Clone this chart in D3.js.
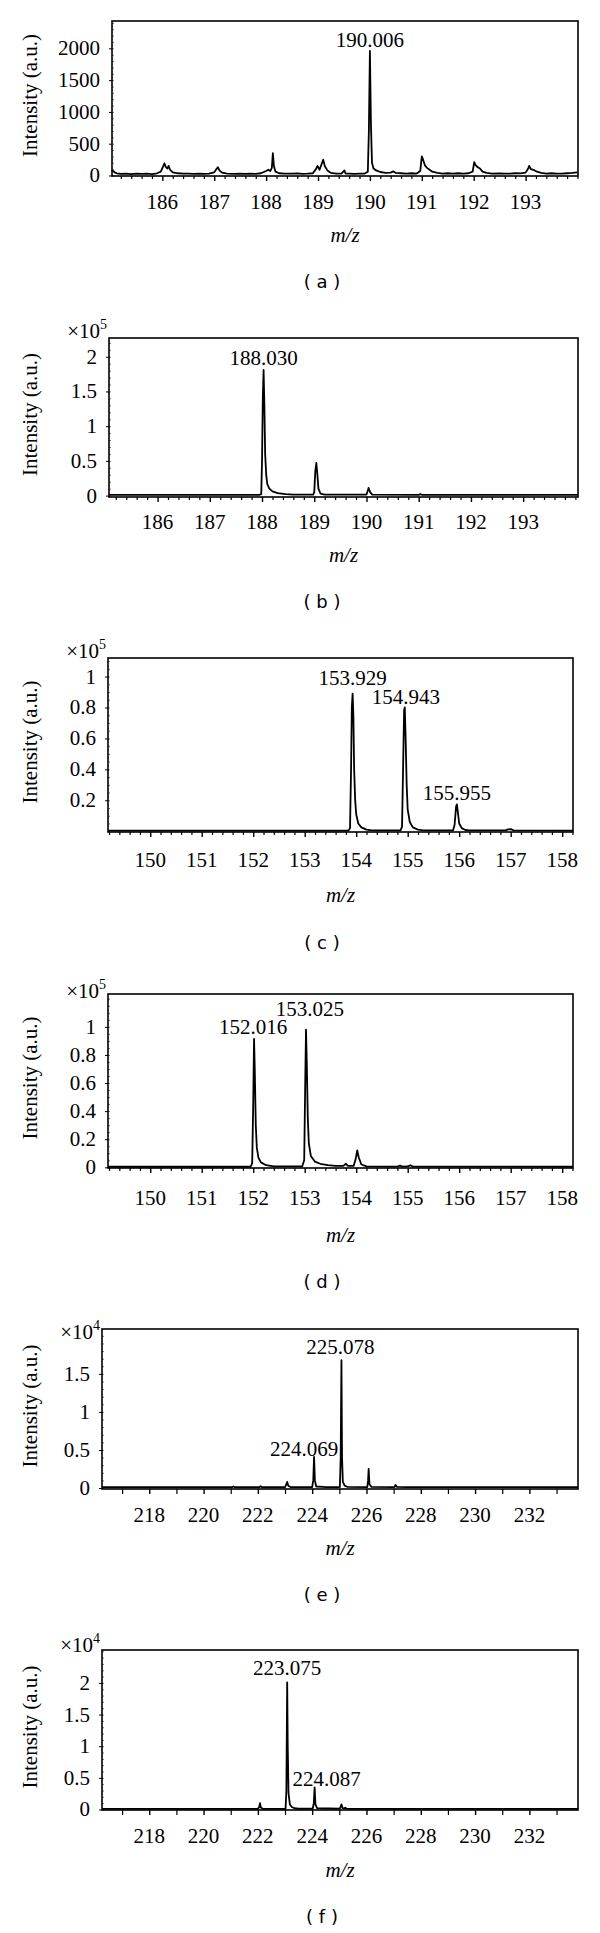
<!DOCTYPE html>
<html>
<head>
<meta charset="utf-8">
<script src="https://cdn.jsdelivr.net/npm/d3@7"></script>
<style>
  html, body { margin: 0; padding: 0; background: #fff; }
  svg { display: block; }
</style>
</head>
<body>
<svg id="chart" width="600" height="1933"></svg>
<script>
// ---------------- DATA ----------------
// Spectrum (a): [m/z, intensity a.u.]
const spectrumA = [
  [185.03,90],[185.05,70],[185.08,50],[185.12,35],[185.2,25],[185.3,30],[185.4,20],[185.5,30],[185.6,25],[185.7,28],[185.8,22],[185.9,35],
  [185.97,60],[186.02,150],[186.04,190],[186.07,130],[186.1,110],[186.12,150],[186.15,90],[186.2,50],[186.3,35],[186.4,30],[186.5,30],
  [186.6,25],[186.7,30],[186.8,25],[186.9,30],[187.0,50],[187.05,110],[187.07,130],[187.1,80],[187.15,45],[187.25,30],[187.4,25],
  [187.5,30],[187.6,25],[187.7,28],[187.8,25],[187.9,35],[188.0,70],[188.04,90],[188.08,70],[188.11,120],[188.13,350],[188.15,150],
  [188.18,60],[188.25,35],[188.35,30],[188.5,28],[188.6,32],[188.7,25],[188.8,28],[188.9,35],[188.96,100],[188.99,150],[189.03,90],
  [189.07,180],[189.1,250],[189.13,150],[189.18,80],[189.25,40],[189.35,30],[189.45,30],[189.51,80],[189.53,30],[189.6,28],[189.7,25],
  [189.8,28],[189.9,30],[189.96,60],[189.98,700],[190.0,1960],[190.02,800],[190.04,200],[190.07,110],[190.12,80],[190.2,55],[190.3,40],
  [190.4,45],[190.45,65],[190.5,40],[190.6,35],[190.7,30],[190.8,35],[190.9,30],[190.97,70],[191.0,300],[191.02,260],[191.06,160],
  [191.1,120],[191.15,90],[191.2,60],[191.3,40],[191.4,30],[191.5,35],[191.6,30],[191.7,35],[191.8,28],[191.9,35],[191.98,60],
  [192.01,210],[192.04,160],[192.08,130],[192.12,110],[192.17,60],[192.25,40],[192.35,30],[192.5,32],[192.6,28],[192.7,30],[192.8,35],
  [192.9,32],[193.0,45],[193.05,110],[193.07,150],[193.1,100],[193.15,90],[193.22,60],[193.3,40],[193.4,30],[193.5,35],[193.6,30],
  [193.7,28],[193.8,35],[193.9,40],[194.0,50]
];
// Spectrum (b): [m/z, intensity x1e5]
const spectrumB = [
  [185.07,0.012],[187.95,0.012],[187.985,0.02],[188.0,0.5],[188.015,1.4],[188.03,1.81],[188.045,1.3],[188.06,0.6],[188.08,0.3],
  [188.1,0.17],[188.14,0.1],[188.2,0.06],[188.3,0.035],[188.45,0.02],[188.6,0.014],[188.98,0.014],[189.0,0.05],[189.02,0.35],
  [189.04,0.47],[189.06,0.3],[189.08,0.1],[189.12,0.03],[189.2,0.015],[190.0,0.015],[190.02,0.06],[190.04,0.11],[190.07,0.05],
  [190.11,0.015],[191.0,0.012],[191.03,0.02],[191.06,0.012],[194.05,0.012]
];
// Spectrum (c): [m/z, intensity x1e5]
const spectrumC = [
  [149.18,0.004],[153.85,0.004],[153.88,0.02],[153.9,0.4],[153.915,0.8],[153.93,0.89],[153.945,0.75],[153.96,0.4],[153.98,0.2],
  [154.0,0.11],[154.04,0.05],[154.1,0.025],[154.2,0.01],[154.3,0.005],[154.86,0.005],[154.89,0.03],[154.91,0.4],[154.93,0.78],
  [154.943,0.80],[154.96,0.6],[154.98,0.3],[155.0,0.14],[155.04,0.06],[155.1,0.025],[155.2,0.01],[155.3,0.005],[155.88,0.005],
  [155.91,0.04],[155.94,0.16],[155.955,0.174],[155.975,0.12],[156.0,0.05],[156.05,0.02],[156.12,0.008],[156.2,0.005],[156.9,0.005],
  [156.95,0.012],[157.0,0.013],[157.06,0.006],[158.21,0.004]
];
// Spectrum (d): [m/z, intensity x1e5]
const spectrumD = [
  [149.18,0.004],[151.95,0.004],[151.98,0.03],[152.0,0.45],[152.016,0.915],[152.03,0.7],[152.05,0.3],[152.07,0.14],[152.1,0.07],
  [152.15,0.035],[152.25,0.015],[152.4,0.007],[152.95,0.006],[152.99,0.05],[153.01,0.6],[153.025,0.98],[153.04,0.75],[153.06,0.35],
  [153.08,0.17],[153.12,0.08],[153.2,0.04],[153.3,0.025],[153.45,0.015],[153.6,0.01],[153.75,0.01],[153.8,0.025],[153.84,0.01],
  [153.95,0.01],[153.99,0.06],[154.02,0.12],[154.05,0.07],[154.1,0.02],[154.2,0.007],[154.8,0.005],[154.85,0.012],[154.9,0.005],
  [155.0,0.006],[155.05,0.015],[155.1,0.005],[158.21,0.004]
];
// Spectrum (e): [m/z, intensity x1e4]
const spectrumE = [
  [216.26,0.01],[221.05,0.01],[221.1,0.02],[221.15,0.01],[222.05,0.01],[222.1,0.025],[222.15,0.01],[223.0,0.01],[223.05,0.05],
  [223.08,0.08],[223.12,0.03],[223.2,0.012],[224.0,0.012],[224.04,0.1],[224.07,0.41],[224.1,0.1],[224.15,0.02],[224.4,0.015],
  [224.5,0.012],[225.02,0.012],[225.05,0.4],[225.078,1.68],[225.1,0.4],[225.13,0.08],[225.2,0.03],[225.3,0.015],[226.03,0.012],
  [226.06,0.1],[226.08,0.25],[226.11,0.05],[226.18,0.015],[227.03,0.012],[227.07,0.04],[227.12,0.015],[227.5,0.012],[233.79,0.01]
];
// Spectrum (f): [m/z, intensity x1e4]
const spectrumF = [
  [216.26,0.01],[222.0,0.01],[222.05,0.04],[222.08,0.1],[222.11,0.03],[222.18,0.01],[223.02,0.01],[223.05,0.3],[223.08,2.01],
  [223.1,1.0],[223.13,0.25],[223.18,0.08],[223.25,0.04],[223.35,0.02],[223.5,0.012],[224.02,0.012],[224.06,0.1],[224.09,0.35],
  [224.12,0.08],[224.18,0.02],[225.02,0.012],[225.05,0.05],[225.08,0.08],[225.12,0.02],[225.18,0.015],[225.22,0.03],[225.26,0.012],
  [233.79,0.01]
];

// Peak annotations: [label text, m/z of apex]
const peaksA = [["190.006",190.0]];
const peaksB = [["188.030",188.03]];
const peaksC = [["153.929",153.93],["154.943",154.943],["155.955",155.955]];
const peaksD = [["152.016",152.016],["153.025",153.025]];
const peaksE = [["225.078",225.078],["224.069",224.069]];
const peaksF = [["223.075",223.08],["224.087",224.09]];

// Axis ticks
const xTicksA = [186,187,188,189,190,191,192,193];
const xTicksB = [186,187,188,189,190,191,192,193];
const xTicksCD = [150,151,152,153,154,155,156,157,158];
const xTicksEF = [218,220,222,224,226,228,230,232];
const yTicksA = [0,500,1000,1500,2000];
const yTicksB = [0,0.5,1,1.5,2];
const yTicksC = [0.2,0.4,0.6,0.8,1];
const yTicksD = [0,0.2,0.4,0.6,0.8,1];
const yTicksE = [0,0.5,1,1.5];
const yTicksF = [0,0.5,1,1.5,2];
const exponents = { a: null, b: "5", c: "5", d: "5", e: "4", f: "4" };
const captions = ["( a )","( b )","( c )","( d )","( e )","( f )"];

// ---------------- LAYOUT ----------------
const panels = [
  { id:"a", data:spectrumA, peaks:peaksA, xt:xTicksA, yt:yTicksA, xDom:[185.03,194.01], yDom:[-8,2430],
    box:[112,578,21,176], minor:0.2, yMinor:100, peakBase:[47], peakDx:[0], tickLabY:209, xlabY:242, capY:288, expY:null },
  { id:"b", data:spectrumB, peaks:peaksB, xt:xTicksB, yt:yTicksB, xDom:[185.07,194.05], yDom:[-0.02,2.27],
    box:[109,578,338,497], minor:0.2, yMinor:0.1, peakBase:[365], peakDx:[0], tickLabY:529, xlabY:562, capY:608, expY:338 },
  { id:"c", data:spectrumC, peaks:peaksC, xt:xTicksCD, yt:yTicksC, xDom:[149.18,158.21], yDom:[-0.005,1.12],
    box:[108,573,658,832], minor:0.2, yMinor:0.05, peakBase:[685,704,800], peakDx:[0,1,0], tickLabY:867, xlabY:902, capY:949, expY:658 },
  { id:"d", data:spectrumD, peaks:peaksD, xt:xTicksCD, yt:yTicksD, xDom:[149.18,158.21], yDom:[-0.005,1.234],
    box:[108,573,994,1168], minor:0.2, yMinor:0.05, peakBase:[1034,1016], peakDx:[-1,4], tickLabY:1205, xlabY:1242, capY:1288, expY:998 },
  { id:"e", data:spectrumE, peaks:peaksE, xt:xTicksEF, yt:yTicksE, xDom:[216.26,233.79], yDom:[-0.013,2.09],
    box:[102,578,1329,1489], minor:1, yMinor:0.1, peakBase:[1354,1456], peakDx:[-1,-10], tickLabY:1522, xlabY:1555, capY:1601, expY:1339 },
  { id:"f", data:spectrumF, peaks:peaksF, xt:xTicksEF, yt:yTicksF, xDom:[216.26,233.79], yDom:[-0.008,2.52],
    box:[102,578,1650,1810], minor:1, yMinor:0.1, peakBase:[1675,1786], peakDx:[0,12], tickLabY:1843, xlabY:1877, capY:1923, expY:1652 }
];

const SERIF = "'Liberation Serif','Times New Roman',Times,serif";
const SANS = "'DejaVu Sans',Verdana,sans-serif";
const svg = d3.select("#chart");

panels.forEach((p, i) => {
  const [x0, x1, y0, y1] = p.box;
  const x = d3.scaleLinear().domain(p.xDom).range([x0, x1]);
  const y = d3.scaleLinear().domain(p.yDom).range([y1, y0]);
  const g = svg.append("g");

  // minor x ticks
  const minorVals = d3.range(Math.ceil(p.xDom[0] / p.minor) * p.minor, p.xDom[1] + 1e-9, p.minor)
    .filter(v => !p.xt.some(t => Math.abs(t - v) < 1e-6));
  g.append("g").attr("transform", `translate(0,${y1})`)
    .call(d3.axisBottom(x).tickValues(minorVals).tickSize(p.minor === 1 ? 5 : 3).tickFormat(""))
    .call(s => s.select(".domain").remove())
    .call(s => s.selectAll("line").attr("stroke", "#000").attr("stroke-width", 1.2));

  // major x ticks
  g.append("g").attr("transform", `translate(0,${y1})`)
    .call(d3.axisBottom(x).tickValues(p.xt).tickSize(5).tickFormat(""))
    .call(s => s.select(".domain").remove())
    .call(s => s.selectAll("line").attr("stroke", "#000").attr("stroke-width", 1.4));
  g.append("g").selectAll("text").data(p.xt).join("text")
    .attr("x", d => x(d)).attr("y", p.tickLabY)
    .attr("text-anchor", "middle").attr("font-family", SERIF).attr("font-size", 21)
    .text(d => d3.format("d")(d));

  // minor y ticks (inside, faint)
  const yMinorVals = d3.range(Math.ceil(p.yDom[0] / p.yMinor) * p.yMinor, p.yDom[1], p.yMinor);
  g.append("g").attr("transform", `translate(${x0},0)`)
    .call(d3.axisLeft(y).tickValues(yMinorVals).tickSize(-2).tickFormat(""))
    .call(s => s.select(".domain").remove())
    .call(s => s.selectAll("line").attr("stroke", "#555").attr("stroke-width", 0.8));

  // y ticks
  g.append("g").attr("transform", `translate(${x0},0)`)
    .call(d3.axisLeft(y).tickValues(p.yt).tickSize(3).tickFormat(""))
    .call(s => s.select(".domain").remove())
    .call(s => s.selectAll("line").attr("stroke", "#000").attr("stroke-width", 1));
  g.append("g").selectAll("text").data(p.yt).join("text")
    .attr("x", x0 - 12).attr("y", d => y(d) + 7)
    .attr("text-anchor", "end").attr("font-family", SERIF).attr("font-size", 21)
    .text(d => d3.format("~g")(d));

  // spectrum line
  const line = d3.line().x(d => x(d[0])).y(d => y(d[1]));
  g.append("path").datum(p.data).attr("d", line)
    .attr("fill", "none").attr("stroke", "#000").attr("stroke-width", 1.8).attr("stroke-linejoin", "round");

  // frame
  g.append("rect").attr("x", x0).attr("y", y0).attr("width", x1 - x0).attr("height", y1 - y0)
    .attr("fill", "none").attr("stroke", "#000").attr("stroke-width", 1.6);

  // peak labels
  g.append("g").selectAll("text").data(p.peaks).join("text")
    .attr("x", (d, k) => x(d[1]) + p.peakDx[k]).attr("y", (d, k) => p.peakBase[k])
    .attr("text-anchor", "middle").attr("font-family", SERIF).attr("font-size", 21)
    .text(d => d[0]);

  // exponent
  const ex = exponents[p.id];
  if (ex) {
    const t = g.append("text").attr("x", x0 - 2).attr("y", p.expY)
      .attr("text-anchor", "end").attr("font-family", SERIF).attr("font-size", 21);
    t.append("tspan").text("×10");
    t.append("tspan").attr("font-size", 14).attr("dy", -9).text(ex);
  }

  // axis titles
  g.append("text").attr("transform", `translate(37,${(y0 + y1) / 2 - 3}) rotate(-90)`)
    .attr("text-anchor", "middle").attr("font-family", SERIF).attr("font-size", 21)
    .text("Intensity (a.u.)");
  g.append("text").attr("x", (x0 + x1) / 2).attr("y", p.xlabY)
    .attr("text-anchor", "middle").attr("font-family", SERIF).attr("font-size", 21).attr("font-style", "italic")
    .text("m/z");

  // caption
  g.append("text").attr("x", 322).attr("y", p.capY)
    .attr("text-anchor", "middle").attr("font-family", SANS).attr("font-size", 18)
    .text(captions[i]);
});
</script>
</body>
</html>
